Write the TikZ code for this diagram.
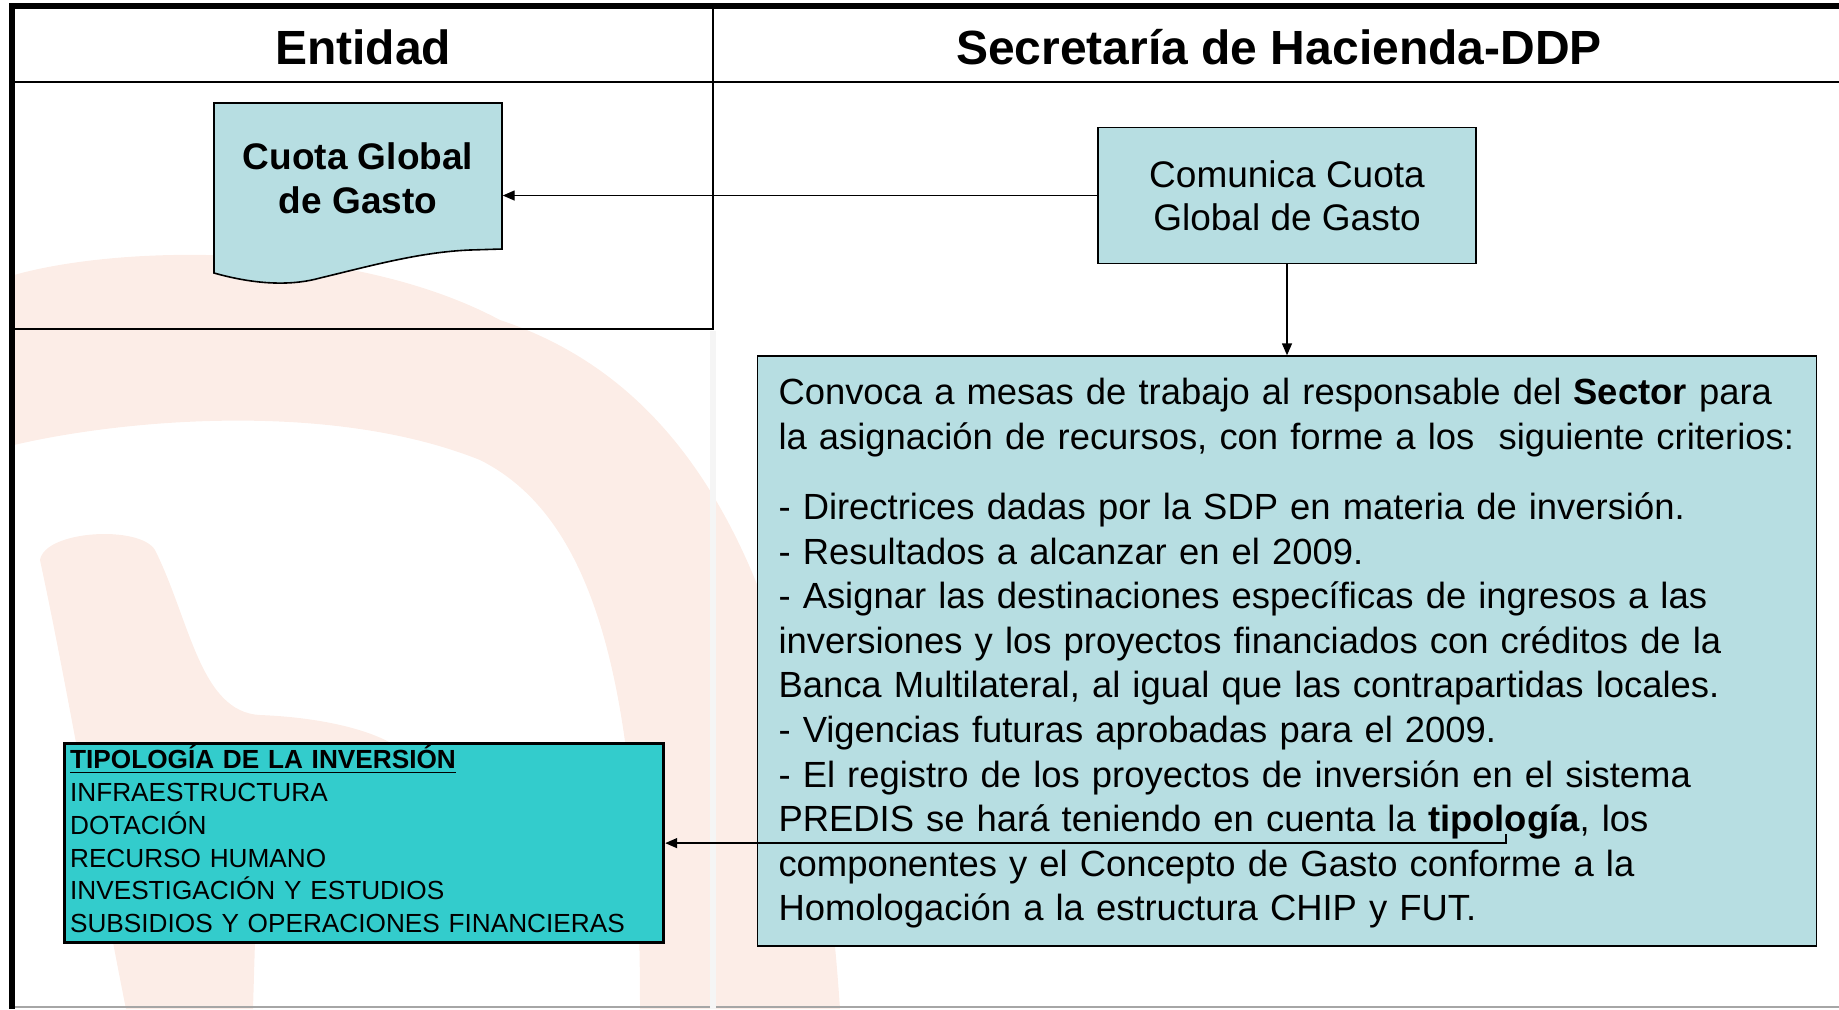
\documentclass[tikz,border=0pt]{standalone}
\usepackage{fontspec}
\setmainfont{Liberation Sans}
\usetikzlibrary{positioning,arrows.meta}
\definecolor{boxblue}{RGB}{183,222,226}
\definecolor{tipoteal}{RGB}{51,204,204}
\definecolor{marca}{RGB}{252,237,231}
\tikzset{
  proc/.style={draw, fill=boxblue, line width=0.8pt, inner sep=0pt},
  lane/.style={line width=1pt},
  head/.style={font=\bfseries\fontsize{24}{28}\selectfont}
}
\begin{document}
\begin{tikzpicture}[x=0.5pt, y=-0.5pt, >={Triangle[length=6pt,width=5pt]}, line width=0.7pt]
  \useasboundingbox (0,0) rectangle (1839,1009);
  % marca de agua
  \begin{scope}
    \clip (14,84) rectangle (1839,1009);
    \fill[marca] (14,275) .. controls (120,245) and (350,240) .. (500,320)
      .. controls (680,380) and (810,560) .. (840,1009) -- (640,1009)
      .. controls (640,700) and (600,520) .. (480,460)
      .. controls (330,400) and (120,420) .. (14,445) -- cycle;
    \fill[marca] (40,560) .. controls (45,530) and (140,525) .. (155,550)
      .. controls (190,620) and (200,712) .. (260,715)
      .. controls (340,718) and (420,740) .. (420,780) -- (258,840) -- (253,1009) -- (126,1009)
      .. controls (100,880) and (70,700) .. (40,560) -- cycle;
  \end{scope}
  % carriles
  \draw[line width=3pt] (9,6) -- (1839,6);
  \draw[line width=3pt] (12,3) -- (12,1009);
  \draw[lane] (12,82) -- (1839,82);
  \draw[lane] (713,6) -- (713,329) -- (12,329);
  \draw[gray!8, line width=3pt] (713,331) -- (713,1009);
  \draw[gray!70, line width=0.8pt] (15,1007) -- (710,1007) (716,1007) -- (1839,1007);
  \node[head] (ent) at (363,47) {Entidad};
  \node[head] (sec) at (1279,47) {Secretaría de Hacienda-DDP};
  % documento
  \draw[fill=boxblue, line width=0.8pt] (214,103) -- (502,103) -- (502,249) -- (470,250)
    .. controls (420,252) and (370,266) .. (320,278)
    .. controls (295,285) and (260,286) .. (214,273) -- cycle;
  \node[minimum width=144pt, inner sep=0pt, align=center,
        font=\bfseries\fontsize{18.5}{22}\selectfont] (cuota) at (358,178) {Cuota Global\\de Gasto};
  \node[proc, minimum width=189pt, minimum height=68pt, align=center,
        font=\fontsize{18.5}{21.5}\selectfont] (com) at (1287,195.5) {Comunica Cuota\\Global de Gasto};
  \node[proc, below=45.5pt of com, minimum width=529.5pt, minimum height=295pt,
        inner xsep=10.5pt, text width=508.5pt, align=left,
        font=\fontsize{18.2}{22.3}\selectfont] (conv) {\hyphenpenalty=10000\relax
\rule{0pt}{15.6pt}Convoca a mesas de trabajo al responsable del \textbf{Sector} para\\
la asignación de recursos, con forme a los~ siguiente criterios:\\[12.7pt]
- Directrices dadas por la SDP en materia de inversión.\\
- Resultados a alcanzar en el 2009.\\
- Asignar las destinaciones específicas de ingresos a las\\
inversiones y los proyectos financiados con créditos de la\\
Banca Multilateral, al igual que las contrapartidas locales.\\
- Vigencias futuras aprobadas para el 2009.\\
- El registro de los proyectos de inversión en el sistema\\
PREDIS se hará teniendo en cuenta la \textbf{tipología}, los\\
componentes y el Concepto de Gasto conforme a la\\
Homologación a la estructura CHIP y FUT.};
  \node[draw, line width=1.6pt, fill=tipoteal, anchor=north west, minimum width=299.5pt,
        minimum height=99.5pt, text width=294pt, inner sep=0pt, align=left,
        font=\fontsize{13.1}{16.35}\selectfont] (tipo) at (63,742) {\textbf{\underline{TIPOLOGÍA DE LA INVERSIÓN}}\\
INFRAESTRUCTURA\\
DOTACIÓN\\
RECURSO HUMANO\\
INVESTIGACIÓN Y ESTUDIOS\\
SUBSIDIOS Y OPERACIONES FINANCIERAS\rule[-4pt]{0pt}{4pt}};
  \coordinate (tip) at (1506,834);
  \path[->] (com) edge (com -| cuota.east)
            (com) edge (conv);
  \draw[->] (tip) |- (tipo);
\end{tikzpicture}
\end{document}
